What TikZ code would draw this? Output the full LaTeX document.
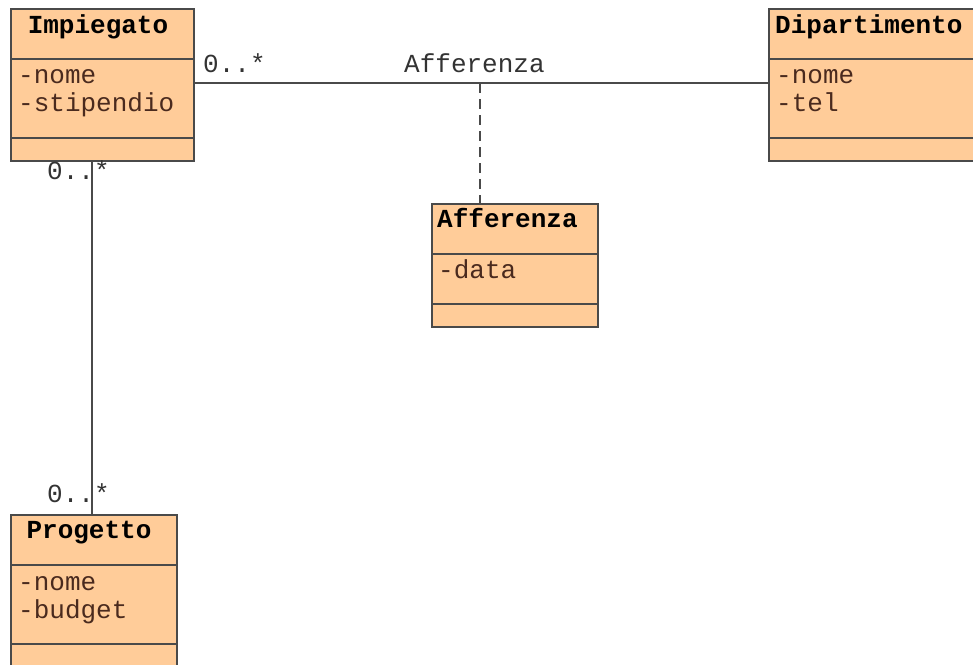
\documentclass[tikz,border=0pt]{standalone}
\usepackage{fontspec}
\setmonofont{Liberation Mono}
\begin{document}
\begin{tikzpicture}[x=1pt,y=-1pt,
  box/.style={draw=boxline, line width=2.2pt, fill=peach, anchor=north west, inner sep=0pt},
  divider/.style={draw=boxline, line width=2.2pt},
  ttl/.style={font=\fontsize{26}{28}\selectfont\ttfamily\bfseries, text=black, anchor=base, inner sep=0pt},
  attr/.style={font=\fontsize{26}{28}\selectfont\ttfamily, text=attrtext, anchor=base west, inner sep=0pt, align=left},
  lbl/.style={font=\fontsize{26}{28}\selectfont\ttfamily, text=labeltext, anchor=base west, inner sep=0pt},
  conn/.style={draw=boxline, line width=2pt}]
\definecolor{peach}{HTML}{FFCC99}
\definecolor{boxline}{HTML}{4A4A4A}
\definecolor{attrtext}{HTML}{4A2A1E}
\definecolor{labeltext}{HTML}{333333}
\useasboundingbox (0,0) rectangle (973,664);
\begin{scope}
\clip (0,0) rectangle (973,664);
% Impiegato
\node[box, minimum width=183pt, minimum height=152pt] (imp) at (10,8) {};
\draw[divider] (10,59) -- (193,59) (10,138) -- (193,138);
\node[ttl] (impt) at (98,33) {Impiegato};
\node[attr] (impa1) at (18,83) {-nome};
\node[attr] (impa2) at (18,111) {-stipendio};
% Dipartimento
\node[box, minimum width=215pt, minimum height=152pt] (dip) at (768,8) {};
\draw[divider] (768,59) -- (983,59) (768,138) -- (983,138);
\node[attr, text=black, font=\fontsize{26}{28}\selectfont\ttfamily\bfseries] (dipt) at (775,33) {Dipartimento};
\node[attr] (dipa1) at (776,83) {-nome};
\node[attr] (dipa2) at (776,111) {-tel};
% Afferenza class
\node[box, minimum width=166pt, minimum height=123pt] (aff) at (431,203) {};
\draw[divider] (431,254) -- (597,254) (431,304) -- (597,304);
\node[attr, text=black, font=\fontsize{26}{28}\selectfont\ttfamily\bfseries] (afft) at (437,227) {Afferenza};
\node[attr] (affa1) at (438,278) {-data};
% Progetto
\node[box, minimum width=166pt, minimum height=160pt] (prog) at (10,514) {};
\draw[divider] (10,565) -- (176,565) (10,644) -- (176,644);
\node[ttl] (progt) at (89,538) {Progetto};
\node[attr] (proga1) at (18,590) {-nome};
\node[attr] (proga2) at (18,618) {-budget};
\end{scope}
% connectors
\coordinate (assoc) at (480,83);
\draw[conn] (imp.east |- assoc) -- (dip.west |- assoc);
\draw[conn, dashed, dash pattern=on 10pt off 6pt] (assoc) -- (aff.north -| assoc);
\coordinate (vtop) at (92,160);
\coordinate (vbot) at (92,514);
\draw[conn] (vtop) -- (vbot);
% labels
\node[lbl] (m1) at (203,72) {0..*};
\node[lbl] (an) at (404,72) {Afferenza};
\node[lbl] (m2) at (47,179) {0..*};
\node[lbl] (m3) at (47,502) {0..*};
\end{tikzpicture}
\end{document}
